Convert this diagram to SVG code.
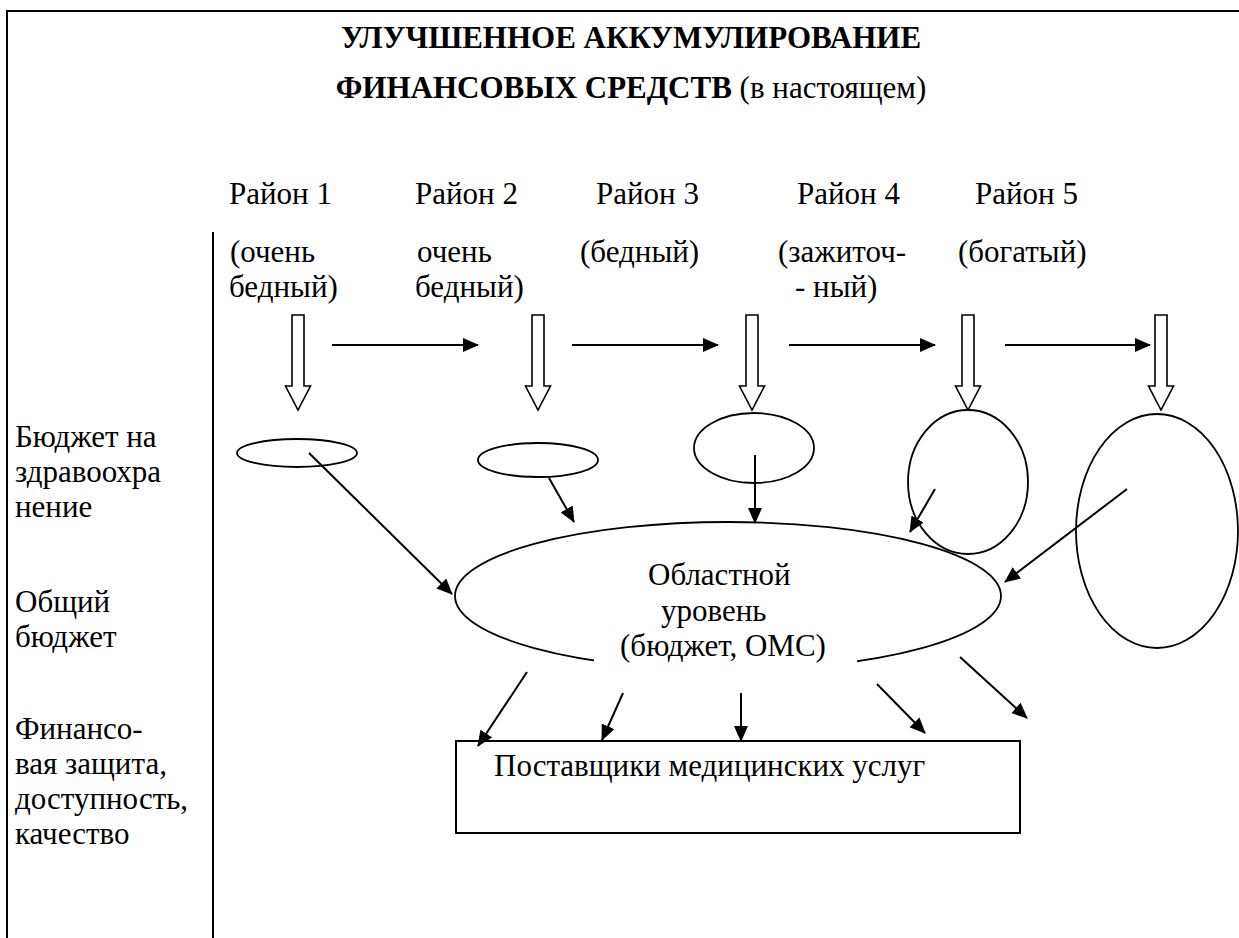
<svg xmlns="http://www.w3.org/2000/svg" width="1239" height="938" viewBox="0 0 1239 938" font-family="'Liberation Serif', 'Times New Roman', serif">
<style>
text{font-family:'Liberation Serif','Times New Roman',serif;font-size:31px;fill:#000}
.b{font-weight:bold}
.ln{stroke:#000;stroke-width:2;fill:none}
.sh{stroke:#000;stroke-width:1.8;fill:#fff}
.blk{stroke:#000;stroke-width:1.6;fill:#fff}
</style>
<defs>
<marker id="ah" viewBox="0 0 16 14" refX="15" refY="7" markerWidth="16" markerHeight="14" markerUnits="userSpaceOnUse" orient="auto"><path d="M0,0 L16,7 L0,14 z" fill="#000"/></marker>
<path id="blockArrow" d="M-6,0 H6 V71 H12.5 L0,95 L-12.5,71 H-6 Z"/>
</defs>
<rect width="1239" height="938" fill="#fff"/>
<g id="frame">
<path class="ln" d="M7,938 V11 H1239"/>
<line class="ln" x1="213" y1="232" x2="213" y2="938"/>
</g>
<g id="title">
<text class="b" x="631" y="48" text-anchor="middle">УЛУЧШЕННОЕ АККУМУЛИРОВАНИЕ</text>
<text x="631" y="98" text-anchor="middle"><tspan class="b">ФИНАНСОВЫХ СРЕДСТВ</tspan> (в настоящем)</text>
</g>
<g id="districts">
<text x="229" y="204">Район 1</text>
<text x="415" y="204">Район 2</text>
<text x="596" y="204">Район 3</text>
<text x="797" y="204">Район 4</text>
<text x="975" y="204">Район 5</text>
<text x="230" y="262">(очень</text>
<text x="229" y="297">бедный)</text>
<text x="417" y="262">очень</text>
<text x="415" y="297">бедный)</text>
<text x="580" y="262">(бедный)</text>
<text x="778" y="262">(зажиточ-</text>
<text x="795" y="297">- ный)</text>
<text x="958" y="262">(богатый)</text>
</g>
<g id="left-labels">
<text x="15" y="447">Бюджет на</text>
<text x="15" y="482">здравоохра</text>
<text x="15" y="517">нение</text>
<text x="15" y="612">Общий</text>
<text x="15" y="647">бюджет</text>
<text x="15" y="739">Финансо-</text>
<text x="15" y="774">вая защита,</text>
<text x="15" y="809">доступность,</text>
<text x="15" y="844">качество</text>
</g>
<g id="block-arrows">
<use href="#blockArrow" class="blk" x="298" y="315"/>
<use href="#blockArrow" class="blk" x="538" y="315"/>
<use href="#blockArrow" class="blk" x="752" y="315"/>
<use href="#blockArrow" class="blk" x="968" y="315"/>
<use href="#blockArrow" class="blk" x="1161" y="315"/>
</g>
<g id="district-budgets">
<ellipse id="e1" class="sh" cx="297" cy="453" rx="60" ry="14"/>
<ellipse id="e2" class="sh" cx="538" cy="460" rx="60" ry="17"/>
<ellipse id="e3" class="sh" cx="754" cy="448" rx="60" ry="35"/>
<ellipse id="e4" class="sh" cx="968" cy="482" rx="60" ry="72"/>
<ellipse id="e5" class="sh" cx="1157" cy="531" rx="81" ry="117"/>
</g>
<g id="regional">
<ellipse class="sh" cx="728" cy="596" rx="273" ry="74"/>
<rect x="594" y="630" width="263" height="45" fill="#fff"/>
<text x="648" y="585">Областной</text>
<text x="661" y="621">уровень</text>
<text x="723" y="656" text-anchor="middle">(бюджет, ОМС)</text>
</g>
<g id="providers">
<rect class="ln" x="456" y="741" width="564" height="92"/>
<text x="494" y="776">Поставщики медицинских услуг</text>
</g>
<g id="connectors">
<line class="ln" x1="332" y1="345" x2="478" y2="345" marker-end="url(#ah)"/>
<line class="ln" x1="572" y1="345" x2="718" y2="345" marker-end="url(#ah)"/>
<line class="ln" x1="789" y1="345" x2="935" y2="345" marker-end="url(#ah)"/>
<line class="ln" x1="1005" y1="345" x2="1150" y2="345" marker-end="url(#ah)"/>
<line class="ln" x1="309" y1="453" x2="452" y2="594" marker-end="url(#ah)"/>
<line class="ln" x1="549" y1="478" x2="574" y2="522" marker-end="url(#ah)"/>
<line class="ln" x1="755" y1="455" x2="755" y2="523" marker-end="url(#ah)"/>
<line class="ln" x1="935" y1="489" x2="910" y2="532" marker-end="url(#ah)"/>
<line class="ln" x1="1127" y1="489" x2="1005" y2="582" marker-end="url(#ah)"/>
<line class="ln" x1="527" y1="672" x2="478" y2="746" marker-end="url(#ah)"/>
<line class="ln" x1="623" y1="693" x2="602" y2="740" marker-end="url(#ah)"/>
<line class="ln" x1="741" y1="693" x2="741" y2="741" marker-end="url(#ah)"/>
<line class="ln" x1="877" y1="684" x2="925" y2="733" marker-end="url(#ah)"/>
<line class="ln" x1="960" y1="657" x2="1027" y2="718" marker-end="url(#ah)"/>
</g>
</svg>
